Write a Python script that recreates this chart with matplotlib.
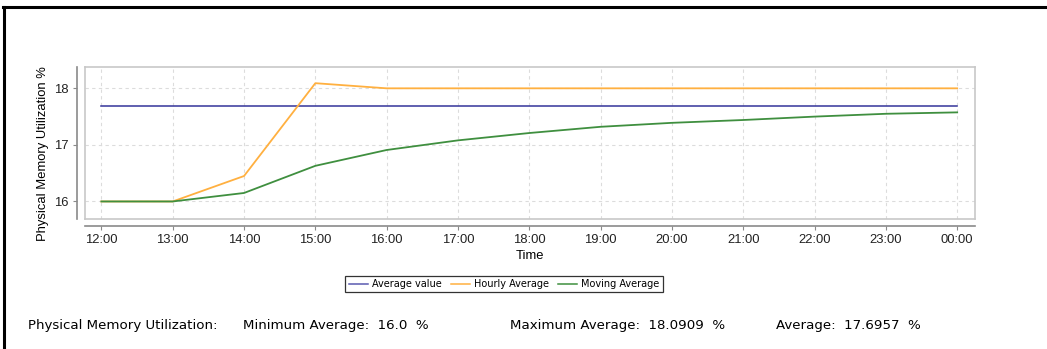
import matplotlib
matplotlib.use("Agg")
import matplotlib.pyplot as plt
from matplotlib.lines import Line2D

# Hourly memory utilisation data
times = ["12:00", "13:00", "14:00", "15:00", "16:00", "17:00", "18:00",
         "19:00", "20:00", "21:00", "22:00", "23:00", "00:00"]
hourly_average = [16.0, 16.0, 16.45, 18.0909, 18.0, 18.0, 18.0,
                  18.0, 18.0, 18.0, 18.0, 18.0, 18.0]
moving_average = [16.0, 16.0, 16.15, 16.63, 16.91, 17.08, 17.21,
                  17.32, 17.39, 17.44, 17.50, 17.55, 17.575]
average_value = 17.6957
minimum_average = 16.0
maximum_average = 18.0909
y_ticks = [16, 17, 18]

W, H = 1047, 349
fig = plt.figure(figsize=(W / 100, H / 100), dpi=100)
fig.patch.set_facecolor("white")

# outer panel border (top and left edges)
fig.add_artist(Line2D([3 / W, 1.0], [1 - 6.5 / H, 1 - 6.5 / H], color="black", lw=2.2,
                      transform=fig.transFigure))
fig.add_artist(Line2D([3.5 / W, 3.5 / W], [0.0, 1 - 6.5 / H], color="black", lw=2.2,
                      transform=fig.transFigure))

left, right, top, bottom = 85, 975, 67, 219
ax = fig.add_axes([left / W, 1 - bottom / H, (right - left) / W, (bottom - top) / H])

x = list(range(len(times)))
c_avg = "#34349a"
c_hour = "#ffb040"
c_move = "#3f8f3f"

ax.plot(x, [average_value] * len(x), color=c_avg, lw=1.1, zorder=3)
ax.plot(x, hourly_average, color=c_hour, lw=1.3, zorder=3)
ax.plot(x, moving_average, color=c_move, lw=1.3, zorder=3)

ax.set_xlim(-0.23, 12.25)
ax.set_ylim(15.69, 18.377)
ax.set_xticks(x)
ax.set_xticklabels(times)
ax.set_yticks(y_ticks)

ax.grid(True, color="#dcdcdc", linestyle=(0, (3, 3)), lw=0.8)
ax.set_axisbelow(True)

for s in ("top", "right"):
    ax.spines[s].set_color("#c8c8c8")
    ax.spines[s].set_linewidth(1.2)
for s in ("left", "bottom"):
    ax.spines[s].set_color("#8a8a8a")
    ax.spines[s].set_linewidth(1.2)
ax.spines["left"].set_position(("outward", 6))
ax.spines["bottom"].set_position(("outward", 5))
# inner box edges on the left and bottom
ax.add_line(Line2D([0, 0], [0, 1], transform=ax.transAxes, color="#c8c8c8", lw=1.2, clip_on=False))
ax.add_line(Line2D([0, 1], [0, 0], transform=ax.transAxes, color="#c8c8c8", lw=1.2, clip_on=False))

ax.tick_params(axis="both", length=3, width=0.8, color="#8a8a8a",
               labelsize=9.4, labelcolor="#222222", pad=3)
for lbl in ax.get_xticklabels() + ax.get_yticklabels():
    lbl.set_fontfamily("Liberation Sans")

ax.set_xlabel("Time", fontsize=9.4, family="Liberation Sans", labelpad=3)
ax.set_ylabel("Physical Memory Utilization %", fontsize=9.4, family="Liberation Sans")
ax.yaxis.set_label_coords(-0.0405, 0.43)

handles = [Line2D([], [], color="#5a5ab0", lw=1.1),
           Line2D([], [], color=c_hour, lw=1.1),
           Line2D([], [], color=c_move, lw=1.1)]
leg = fig.legend(handles, ["Average value", "Hourly Average", "Moving Average"],
                 loc="center", bbox_to_anchor=(504 / W, 1 - 284 / H), ncol=3,
                 frameon=True, fancybox=False, handlelength=2.0,
                 handletextpad=0.4, columnspacing=0.9, borderpad=0.35,
                 prop={"family": "DejaVu Sans", "size": 7.0})
leg.get_frame().set_edgecolor("black")
leg.get_frame().set_linewidth(0.9)

ty = 1 - 326 / H
fs = 9.6
fig.text(28 / W, ty, "Physical Memory Utilization:", fontsize=fs, va="center", family="DejaVu Sans")
fig.text(243 / W, ty, f"Minimum Average:  {minimum_average}  %", fontsize=fs, va="center", family="DejaVu Sans")
fig.text(510 / W, ty, f"Maximum Average:  {maximum_average}  %", fontsize=fs, va="center", family="DejaVu Sans")
fig.text(776 / W, ty, f"Average:  {average_value}  %", fontsize=fs, va="center", family="DejaVu Sans")

fig.savefig("out.png", dpi=100)
